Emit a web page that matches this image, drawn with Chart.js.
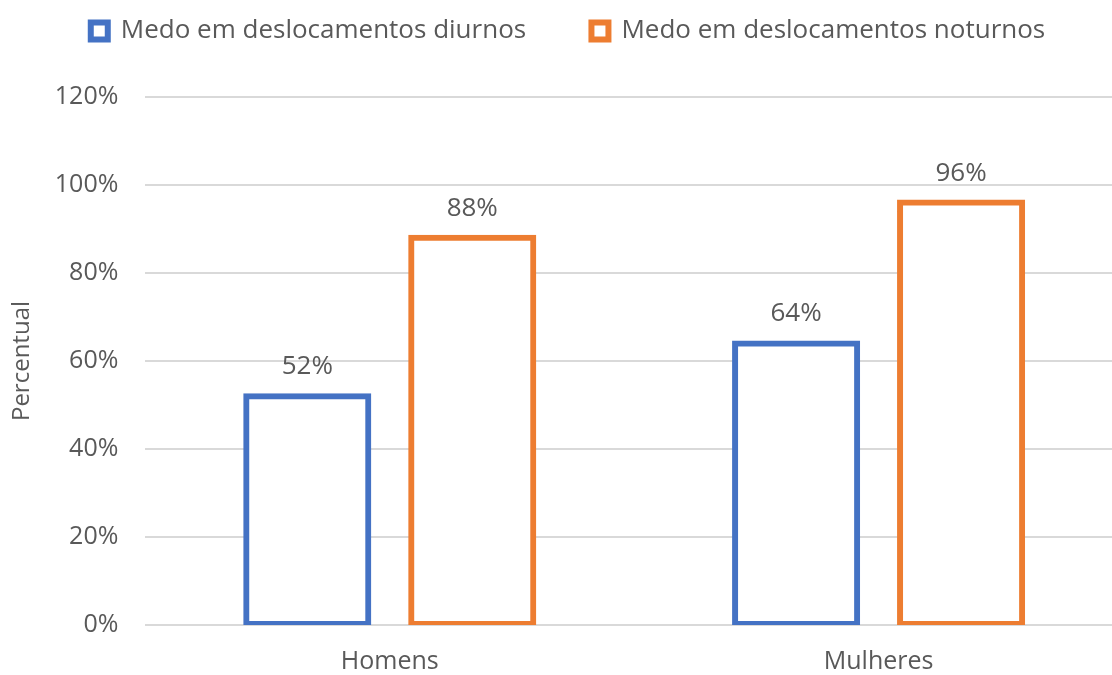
<!DOCTYPE html>
<html>
<head>
<meta charset="utf-8">
<script src="https://cdn.jsdelivr.net/npm/chart.js@4/dist/chart.umd.min.js"></script>
<style>
html, body { margin: 0; padding: 0; background: #fff; }
#wrap { width: 1112px; height: 675px; }
</style>
</head>
<body>
<div id="wrap"><canvas id="canvas"></canvas></div>
<script>
var categories = ['Homens', 'Mulheres'];
var seriesNames = ['Medo em deslocamentos diurnos', 'Medo em deslocamentos noturnos'];
var diurnos = [52, 64];
var noturnos = [88, 96];
var yTicks = [0, 20, 40, 60, 80, 100, 120];

var textColor = '#595959';
var fontName = "'Open Sans', sans-serif";

// draws the value above each bar
var valueLabels = {
	id: 'valueLabels',
	afterDatasetsDraw: function(chart){
		var ctx = chart.ctx;
		ctx.save();
		ctx.fillStyle = '#595959';
		ctx.font = '26px ' + fontName;
		ctx.textAlign = 'center';
		ctx.textBaseline = 'alphabetic';
		chart.data.datasets.forEach(function(ds, i){
			chart.getDatasetMeta(i).data.forEach(function(bar, j){
				ctx.fillText(ds.data[j] + '%', bar.x, bar.y - 22);
			});
		});
		ctx.restore();
	}
};

// extra space between legend and plot
var legendGap = {
	id: 'legendGap',
	beforeInit: function(chart){
		var fit = chart.legend.fit;
		chart.legend.fit = function(){
			fit.bind(chart.legend)();
			this.height += 43;
		};
	}
};

// the original plot runs a little past the right edge of the image
var widenX = {
	id: 'widenX',
	afterLayout: function(chart){
		var x = chart.scales.x;
		x.right += 11;
		x.width += 11;
		x.configure();
	}
};

var config = {
	type: 'bar',
	data: {
		labels: categories,
		datasets: [{
			label: seriesNames[0],
			data: diurnos,
			backgroundColor: '#ffffff',
			borderColor: '#4472C4',
			borderWidth: 6,
			borderSkipped: false,
			inflateAmount: 3
		}, {
			label: seriesNames[1],
			data: noturnos,
			backgroundColor: '#ffffff',
			borderColor: '#ED7D31',
			borderWidth: 6,
			borderSkipped: false,
			inflateAmount: 3
		}]
	},
	options: {
		responsive: true,
		maintainAspectRatio: false,
		animation: false,
		layout: {padding: {top: 0, left: 8, right: -16, bottom: -16}},
		datasets: {bar: {categoryPercentage: 0.675, barPercentage: 0.74}},
		plugins: {
			tooltip: {enabled: false},
			legend: {
				position: 'top',
				labels: {
					color: textColor,
					font: {family: fontName, size: 26},
					boxWidth: 17,
					boxHeight: 17,
					padding: 18,
					generateLabels: function(chart){
						return chart.data.datasets.map(function(ds, i){
							// trailing spaces widen the gap between the two items
							var txt = i == 0 ? ds.label + '       ' : ds.label;
							return {
								text: txt,
								fillStyle: '#ffffff',
								strokeStyle: ds.borderColor,
								lineWidth: 6,
								fontColor: textColor,
								datasetIndex: i
							};
						});
					}
				}
			}
		},
		scales: {
			x: {
				grid: {display: false},
				border: {display: false},
				ticks: {color: textColor, font: {family: fontName, size: 25}, padding: 14}
			},
			y: {
				min: yTicks[0],
				max: yTicks[yTicks.length - 1],
				grid: {color: '#d9d9d9', lineWidth: 2, drawTicks: false},
				border: {display: false},
				afterBuildTicks: function(axis){
					axis.ticks = yTicks.map(function(v){ return {value: v}; });
				},
				ticks: {
					color: textColor,
					font: {family: fontName, size: 25},
					padding: 27,
					callback: function(v){ return v + '%'; }
				},
				title: {
					display: true,
					text: 'Percentual',
					color: textColor,
					font: {family: fontName, size: 24},
					padding: {top: 0, bottom: -9}
				}
			}
		}
	},
	plugins: [valueLabels, legendGap, widenX]
};

var ctx = document.getElementById('canvas').getContext('2d');
window.myBar = new Chart(ctx, config);
</script>
</body>
</html>
